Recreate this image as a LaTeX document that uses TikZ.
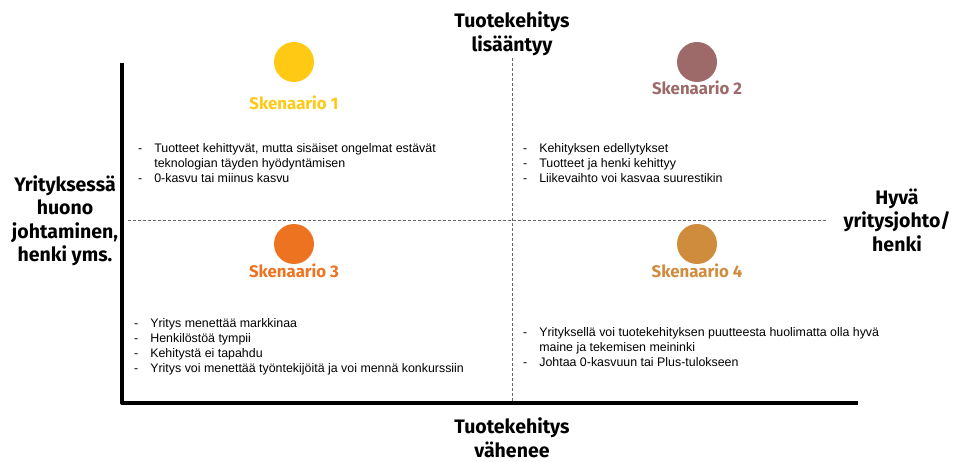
\documentclass[tikz,border=0pt]{standalone}
\usepackage{fontspec}
\setmainfont{Liberation Sans}
\newfontfamily\otsikkofont{Fira Sans}
\usetikzlibrary{positioning}
\definecolor{skenA}{HTML}{FFC914}
\definecolor{skenB}{HTML}{9E6A69}
\definecolor{skenC}{HTML}{EE7321}
\definecolor{skenD}{HTML}{D08C3D}
\newcommand{\lista}[1]{\begin{tabular}[t]{@{}l@{\hspace{12pt}}l@{}}#1\end{tabular}}

\begin{document}
\begin{tikzpicture}[x=1pt, y=-1pt, line join=round,
    otsikko/.style={font=\otsikkofont\bfseries\fontsize{19.5}{23.5}\selectfont, align=center, inner sep=0pt},
    pallo/.style={circle, minimum size=40pt, inner sep=0pt},
    skenaario/.style={font=\otsikkofont\bfseries\fontsize{16.8}{18}\selectfont, inner sep=0pt},
    listateksti/.style={font=\fontsize{12.4}{14.8}\selectfont, anchor=base west, inner sep=0pt},
    katko/.style={gray!80!black, line width=0.8pt, dash pattern=on 3pt off 2pt}]
	\useasboundingbox (0,0) rectangle (956,462);
	
	% akselit
	\coordinate (ylanurkka) at (122,63);
	\coordinate (origo) at (122,403);
	\coordinate (oikeanurkka) at (858,403);
	\coordinate (pysty-yla) at (512,58);
	\coordinate (pysty-ala) at (512,401);
	\coordinate (vaaka-vasen) at (128,220);
	\coordinate (vaaka-oikea) at (828,220);
	\draw[katko] (pysty-yla) -- (pysty-ala);
	\draw[katko] (vaaka-vasen) -- (vaaka-oikea);
	\draw[line width=4pt] (ylanurkka) -- (origo) -- (oikeanurkka);
	
	% akselien otsikot
	\node[otsikko] (ylaotsikko) at (512,34) {Tuotekehitys\\lisääntyy};
	\node[otsikko] (alaotsikko) at (512,438) {Tuotekehitys\\vähenee};
	\node[otsikko] (vasenotsikko) at (65,221) {Yrityksessä\\huono\\johtaminen,\\henki yms.};
	\node[otsikko] (oikeaotsikko) at (897,220) {Hyvä\\yritysjohto/\\henki};
	
	% skenaariot
	\foreach \i/\x/\y/\ly/\vari in {1/294/62/103/skenA, 2/697/62/88/skenB, 3/294/244/271/skenC, 4/697/244/271/skenD} {
		\node[pallo, fill=\vari] (pallo\i) at (\x,\y) {};
		\node[skenaario, text=\vari] (skenaario\i) at (\x,\ly) {Skenaario \i};
	}
	
	\node[listateksti] (lista1) at (138,153) {\lista{- & Tuotteet kehittyvät, mutta sisäiset ongelmat estävät\\
		& teknologian täyden hyödyntämisen\\
		- & 0-kasvu tai miinus kasvu}};
	\node[listateksti] (lista2) at (523,153) {\lista{- & Kehityksen edellytykset\\
		- & Tuotteet ja henki kehittyy\\
		- & Liikevaihto voi kasvaa suurestikin}};
	\node[listateksti] (lista3) at (134,328) {\lista{- & Yritys menettää markkinaa\\
		- & Henkilöstöä tympii\\
		- & Kehitystä ei tapahdu\\
		- & Yritys voi menettää työntekijöitä ja voi mennä konkurssiin}};
	\node[listateksti] (lista4) at (523,337) {\lista{- & Yrityksellä voi tuotekehityksen puutteesta huolimatta olla hyvä\\
		& maine ja tekemisen meininki\\
		- & Johtaa 0-kasvuun tai Plus-tulokseen}};
\end{tikzpicture}
\end{document}
